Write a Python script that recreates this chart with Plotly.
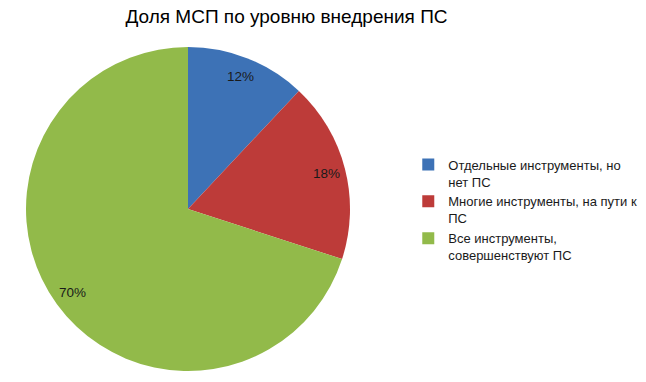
import numpy as np
import plotly.graph_objects as go

labels = ["Отдельные инструменты, но<br>нет ПС",
          "Многие инструменты, на пути к<br>ПС",
          "Все инструменты,<br>совершенствуют ПС"]
values = [12, 18, 70]
colors = ["#3D72B6", "#BD3B39", "#92BA4A"]
LABEL_R = 0.88

W, H = 646, 382
dom_x = [26 / W, 350 / W]
dom_y = [10 / H, 336 / H]

fig = go.Figure(go.Pie(
    labels=labels, values=values, sort=False, direction="clockwise", rotation=0,
    marker=dict(colors=colors, line=dict(width=0)),
    textinfo="none",
    domain=dict(x=dom_x, y=dom_y),
))

# percent labels placed at the slice mid-angles, derived from the data
vals = np.array(values, dtype=float)
frac = vals / vals.sum()
mid = (np.cumsum(frac) - frac / 2) * 2 * np.pi
cx_px = (dom_x[0] + dom_x[1]) / 2 * W
cy_px = (dom_y[0] + dom_y[1]) / 2 * H
r_px = min((dom_x[1] - dom_x[0]) * W, (dom_y[1] - dom_y[0]) * H) / 2
for f, a in zip(frac, mid):
    fig.add_annotation(
        x=(cx_px + LABEL_R * r_px * np.sin(a)) / W,
        y=(cy_px + LABEL_R * r_px * np.cos(a)) / H,
        xref="paper", yref="paper", xanchor="center", yanchor="middle",
        showarrow=False,
        text=f"{round(f * 100)}%",
        font=dict(color="#1a1a1a", size=13.5, family="Liberation Sans"),
    )

fig.update_layout(
    width=W, height=H, margin=dict(l=0, r=0, t=0, b=0, autoexpand=False),
    paper_bgcolor="white", plot_bgcolor="white",
    title=dict(text="Доля МСП по уровню внедрения ПС", x=0.4435, xanchor="center",
               y=0.958, yanchor="middle",
               font=dict(family="Liberation Sans", size=19, color="#000000")),
    legend=dict(x=0.632, y=0.45, xanchor="left", yanchor="middle", valign="top",
                font=dict(family="Liberation Sans", size=13, color="#1a1a1a"),
                itemwidth=30),
    showlegend=True,
)
fig.write_html("out.html", config={"displayModeBar": False},
               post_script="document.body.style.margin='0';document.body.style.overflow='hidden';")
